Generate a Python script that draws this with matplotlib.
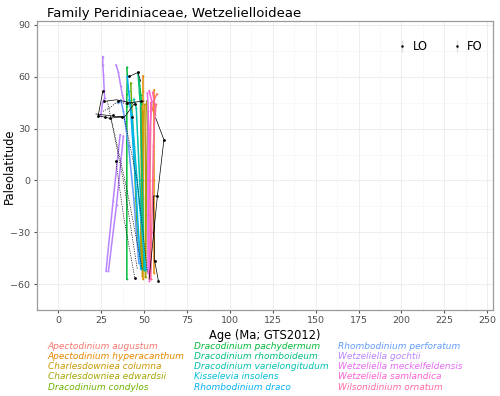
import numpy as np
import matplotlib
matplotlib.use("Agg")
import matplotlib.pyplot as plt
from matplotlib.lines import Line2D

nan = np.nan

# species occurrence paths (age in Ma, paleolatitude); nan breaks a path
species = [
    "Apectodinium augustum", "Apectodinium hyperacanthum", "Charlesdowniea columna",
    "Charlesdowniea edwardsii", "Dracodinium condylos", "Dracodinium pachydermum",
    "Dracodinium rhomboideum", "Dracodinium varielongitudum", "Kisselevia insolens",
    "Rhombodinium draco", "Rhombodinium perforatum", "Wetzeliella gochtii",
    "Wetzeliella meckelfeldensis", "Wetzeliella samlandica", "Wilsonidinium ornatum",
]
colors = [
    "#F8766D", "#E58700", "#C99800", "#A3A500", "#6BB100", "#00BA38", "#00BF7D",
    "#00C0AF", "#00BCD8", "#00B0F6", "#619CFF", "#B983FF", "#E76BF3", "#FD61D1", "#FF67A4",
]

aug_age = [57.5, 56.0, 55.0, 56.5, 57.0, nan, 54.0, 53.5, 53.8]
aug_lat = [50.0, 47.0, 41.0, 38.0, 44.0, nan, 45.0, 0.0, -57.0]
hyp_age = [49.6, 49.6, 49.6, 49.6, nan, 55.8, 55.8, 55.8]
hyp_lat = [60.6, 52.0, 0.0, -57.0, nan, 52.5, 0.0, -53.3]
col_age = [48.5, 49.0, 48.2, 48.5, nan, 50.5, 51.0, 50.8, nan, 49.5, 49.2, 49.0]
col_lat = [43.0, 20.0, -20.0, -51.0, nan, 44.0, 0.0, -56.0, nan, 40.0, -10.0, -55.0]
edw_age = [51.5, 52.0, 51.2, 51.0, nan, 48.0, 48.5, 48.1]
edw_lat = [46.0, 30.0, -20.0, -56.0, nan, 42.0, 0.0, -50.0]
con_age = [42.3, 42.7, 44.0, 46.5]
con_lat = [56.4, 46.7, 20.0, -40.0]
pac_age = [40.0, 40.3, 40.0, 40.0, 40.0, nan, 47.1, 48.1, 48.5]
pac_lat = [65.4, 60.2, 50.0, 42.9, -57.1, nan, 58.3, 49.6, 44.0]
rho_age = [46.5, 47.1, 47.5, 48.0, 49.0, 50.0]
rho_lat = [62.0, 55.0, 48.0, 45.0, 0.0, -52.0]
var_age = [44.0, 45.5, 47.5, 50.5]
var_lat = [47.0, 42.0, 0.0, -52.0]
ins_age = [41.3, 43.0, 46.0, 51.0]
ins_lat = [46.7, 38.0, 0.0, -51.4]
dra_age = [40.3, 41.0, 42.0, 45.0, 48.1]
dra_lat = [60.2, 52.0, 44.0, 0.0, -51.3]
per_age = [34.9, 36.5, 38.0, 41.0, 44.0, 47.0]
per_lat = [44.8, 46.7, 40.0, 20.0, -10.0, -48.0]
goc_age = [26.0, 26.0, 26.4, 26.8, 27.1, 25.8, 24.8, nan, 33.7, 35.0, 36.5, 37.4, 38.4,
           nan, 36.1, 32.0, 27.9, nan, 38.0, 34.0, 29.3]
goc_lat = [71.7, 66.9, 61.2, 52.5, 47.7, 44.8, 37.5, nan, 66.9, 63.0, 54.4, 49.6, 45.8,
           nan, 26.5, -12.0, -52.3, nan, 25.6, -14.0, -52.3]
mec_age = [52.0, 52.5, 52.3, 52.3]
mec_lat = [50.6, 40.0, 0.0, -53.3]
sam_age = [53.0, 54.5, 53.5, 52.8, 53.2]
sam_lat = [52.0, 46.0, 30.0, -20.0, -58.0]
orn_age = [55.0, 56.5, 55.5, 54.5, 53.9]
orn_lat = [51.0, 43.0, 20.0, -30.0, -57.0]

sp_ages = [aug_age, hyp_age, col_age, edw_age, con_age, pac_age, rho_age, var_age,
           ins_age, dra_age, per_age, goc_age, mec_age, sam_age, orn_age]
sp_lats = [aug_lat, hyp_lat, col_lat, edw_lat, con_lat, pac_lat, rho_lat, var_lat,
           ins_lat, dra_lat, per_lat, goc_lat, mec_lat, sam_lat, orn_lat]

# black LO (solid) and FO (dashed) connections
lo_age = [26.0, 23.3, 30.0, 38.0, nan, 26.8, 34.0, 42.0, 50.0, nan, 22.0, 30.0, 38.5, 44.0,
          nan, 56.8, 61.6, 57.8, 53.0, nan, 56.2, 58.4, nan, 41.3, 46.5, 48.1, nan,
          57.8, 55.5, 56.2]
lo_lat = [51.5, 37.5, 36.0, 37.0, nan, 45.8, 46.7, 45.0, 46.0, nan, 38.5, 37.5, 36.5, 44.0,
          nan, 36.2, 23.6, -9.0, -57.1, nan, -46.5, -58.1, nan, 60.2, 62.5, 57.3, nan,
          -9.0, -9.0, -46.5]
fo_age = [28.7, 38.0, 46.1, nan, 30.6, 40.0, 49.0, nan, 38.4, 46.0, 52.0, nan,
          26.0, 30.0, 35.0, 40.0, 45.0, nan, 33.6, 38.0, 44.7]
fo_lat = [45.8, 0.0, -51.3, nan, 37.1, -5.0, -51.3, nan, 37.0, 0.0, -53.0, nan,
          40.0, 42.0, 46.0, 44.0, 45.0, nan, 11.1, -20.0, -56.7]
pt_age = [26.0, 23.3, 26.8, 33.6, 44.7, 56.2, 58.4, 61.6, 57.8, 46.5, 41.3, 30.0,
          35.0, 40.0, 45.0, 48.0, 27.5, 32.0, 37.0, 43.0]
pt_lat = [51.5, 37.5, 45.8, 11.1, -56.7, -46.5, -58.1, 23.6, -9.0, 62.5, 60.2, 36.0,
          46.0, 45.0, 44.0, 46.0, 37.0, 38.0, 36.5, 37.0]

legend_x = [0.095, 0.389, 0.675]
legend_y = [0.1245, 0.0992, 0.0740, 0.0487, 0.022]


def style_axes(ax):
    ax.set_facecolor("white")
    for s in ax.spines.values():
        s.set_color("#9a9a9a")
        s.set_linewidth(0.9)
    ax.set_xlim(-12.0, 253.3)
    ax.set_ylim(-74.4, 92.3)
    ax.set_xticks(np.arange(0, 251, 25))
    ax.set_yticks(np.arange(-60, 91, 30))
    ax.set_xticks(np.arange(-12.5, 253, 12.5), minor=True)
    ax.set_yticks(np.arange(-75, 91, 15), minor=True)
    ax.grid(which="major", color="#ebebeb", lw=0.6)
    ax.grid(which="minor", color="#f4f4f4", lw=0.4)
    ax.set_axisbelow(True)
    ax.tick_params(which="major", length=2.5, color="#555555", labelcolor="#4d4d4d",
                   labelsize=6.8, pad=2)
    ax.tick_params(which="minor", length=0)


fig = plt.figure()
fig.set_size_inches(5.0, 3.96)
ax = fig.add_axes([0.0734, 0.217, 0.9126, 0.730])
style_axes(ax)

for a, l, c in zip(sp_ages, sp_lats, colors):
    ax.plot(a, l, "-o", color=c, lw=1.1, ms=1.3, mew=0, zorder=2)

ax.plot(fo_age, fo_lat, "--", color="black", lw=0.45, dashes=(2, 1.8), zorder=3)
ax.plot(lo_age, lo_lat, "-", color="black", lw=0.5, zorder=3)
ax.plot(pt_age, pt_lat, "o", color="black", ms=2.0, mew=0, zorder=4)

ax.set_xlabel("Age (Ma; GTS2012)", fontsize=8.3, labelpad=3)
fig.text(0.018, 0.58, "Paleolatitude", fontsize=8.3, rotation=90,
         va="center", ha="center")
fig.text(0.094, 0.965, "Family Peridiniaceae, Wetzelielloideae", fontsize=9.5,
         va="center", ha="left")

h_lo = (Line2D([], [], ls="none", marker="|", ms=9, color="#dddddd"),
        Line2D([], [], ls="none", marker="o", ms=1.8, mew=0, color="black"))
h_fo = (Line2D([], [], ls="none", marker="|", ms=9, color="#dddddd"),
        Line2D([], [], ls="none", marker="o", ms=1.8, mew=0, color="black"))
ax.legend([h_lo, h_fo], ["LO", "FO"], loc="upper right", ncol=2, frameon=False,
          fontsize=8.3, handlelength=1.0, handletextpad=0.4, columnspacing=2.0,
          bbox_to_anchor=(1.0, 0.97))

for i, (name, c) in enumerate(zip(species, colors)):
    fig.text(legend_x[i // 5], legend_y[i % 5], name, color=c, fontsize=6.5,
             style="italic", va="center", ha="left")

fig.savefig("out.png", dpi=100)
